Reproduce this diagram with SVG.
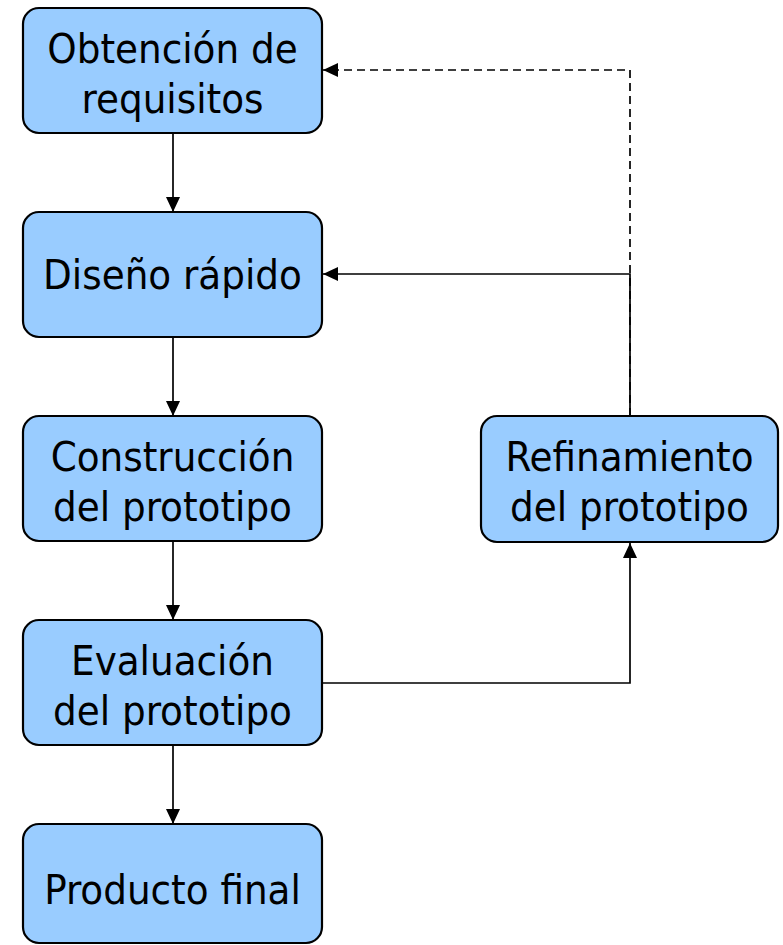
<svg xmlns="http://www.w3.org/2000/svg" width="783" height="945" viewBox="0 0 783 945">
<style>
.box{fill:#99ccff;stroke:#000;stroke-width:2.2}
.t{font-family:"DejaVu Sans Condensed","DejaVu Sans",sans-serif;font-size:41.5px;fill:#000;text-anchor:middle}
.c{fill:none;stroke:#000;stroke-width:1.7}
.d{fill:none;stroke:#000;stroke-width:1.7;stroke-dasharray:8,5}
</style>
<defs>
<marker id="b" viewBox="0 0 15 14" refX="15" refY="7" markerWidth="15" markerHeight="14" markerUnits="userSpaceOnUse" orient="auto">
<path d="M0,0 L15,7 L0,14 z" fill="#000"/>
</marker>
</defs>
<g id="connectors">
<line class="c" x1="173" y1="133" x2="173" y2="212" marker-end="url(#b)"/>
<line class="c" x1="173" y1="337" x2="173" y2="416" marker-end="url(#b)"/>
<line class="c" x1="173" y1="541" x2="173" y2="620" marker-end="url(#b)"/>
<line class="c" x1="173" y1="745" x2="173" y2="824" marker-end="url(#b)"/>
<polyline class="c" points="323,683 630,683 630,543" marker-end="url(#b)"/>
<polyline class="c" points="630,416 630,274 323,274" marker-end="url(#b)"/>
<polyline class="d" points="630,416 630,70 323,70" marker-end="url(#b)"/>
</g>
<g id="n1"><rect class="box" x="23" y="8" width="299" height="125" rx="16"/><text class="t" x="172.5" y="63">Obtención de</text><text class="t" x="172.5" y="113">requisitos</text></g>
<g id="n2"><rect class="box" x="23" y="212" width="299" height="125" rx="16"/><text class="t" x="172.5" y="289">Diseño rápido</text></g>
<g id="n3"><rect class="box" x="23" y="416" width="299" height="125" rx="16"/><text class="t" x="172.5" y="471">Construcción</text><text class="t" x="172.5" y="521">del prototipo</text></g>
<g id="n4"><rect class="box" x="23" y="620" width="299" height="125" rx="16"/><text class="t" x="172.5" y="675">Evaluación</text><text class="t" x="172.5" y="725">del prototipo</text></g>
<g id="n5"><rect class="box" x="23" y="824" width="299" height="119" rx="16"/><text class="t" x="172.5" y="904">Producto final</text></g>
<g id="n6"><rect class="box" x="481" y="416" width="297" height="126" rx="16"/><text class="t" x="629.5" y="471">Refinamiento</text><text class="t" x="629.5" y="521">del prototipo</text></g>
</svg>
